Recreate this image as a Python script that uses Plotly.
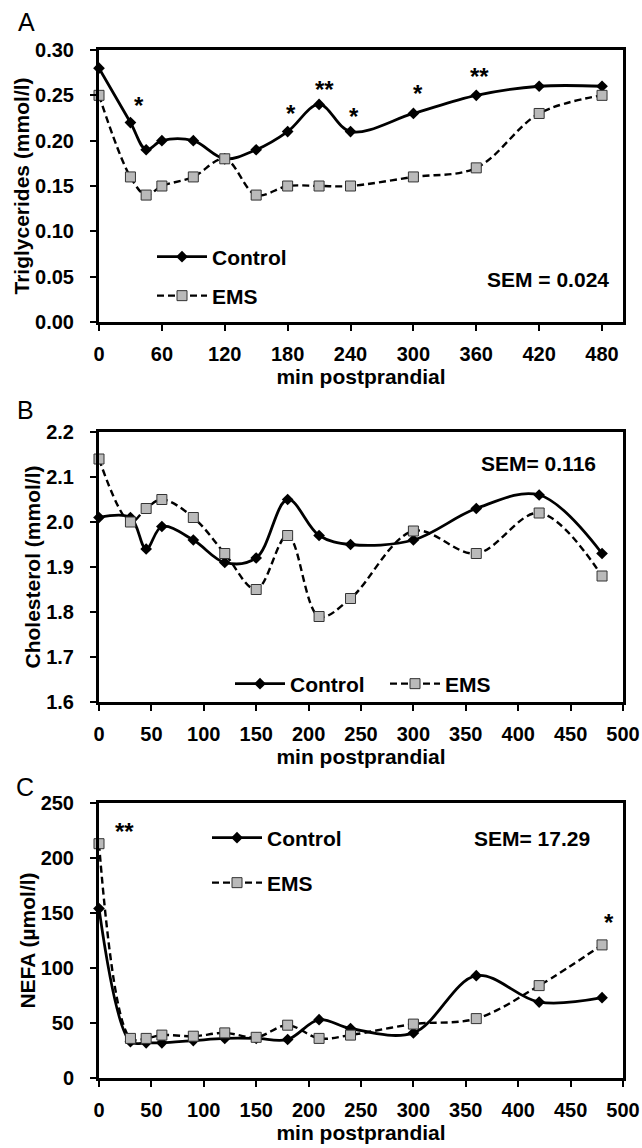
import plotly.graph_objects as go

# ---------------- data ----------------
time_min = [0, 30, 45, 60, 90, 120, 150, 180, 210, 240, 300, 360, 420, 480]

tg_control = [0.28, 0.22, 0.19, 0.20, 0.20, 0.18, 0.19, 0.21, 0.24, 0.21, 0.23, 0.25, 0.26, 0.26]
tg_ems     = [0.25, 0.16, 0.14, 0.15, 0.16, 0.18, 0.14, 0.15, 0.15, 0.15, 0.16, 0.17, 0.23, 0.25]

chol_control = [2.01, 2.01, 1.94, 1.99, 1.96, 1.91, 1.92, 2.05, 1.97, 1.95, 1.96, 2.03, 2.06, 1.93]
chol_ems     = [2.14, 2.00, 2.03, 2.05, 2.01, 1.93, 1.85, 1.97, 1.79, 1.83, 1.98, 1.93, 2.02, 1.88]

nefa_control = [154, 33, 32, 32, 34, 36, 36, 35, 53, 45, 41, 93, 69, 73]
nefa_ems     = [213, 36, 36, 39, 38, 41, 37, 48, 36, 39, 49, 54, 84, 121]

sig_a_x = [38, 183, 215, 243, 304, 363]
sig_a_y = [0.244, 0.236, 0.262, 0.232, 0.258, 0.276]
sig_a_text = ["*", "*", "**", "*", "*", "**"]

sig_c_x = [24, 487]
sig_c_y = [229, 146]
sig_c_text = ["**", "*"]

sem_labels = ["SEM = 0.024", "SEM= 0.116", "SEM= 17.29"]
panel_labels = ["A", "B", "C"]
y_titles = ["Triglycerides (mmol/l)", "Cholesterol (mmol/l)", "NEFA (µmol/l)"]
x_title = "min postprandial"

tg_ticks = [0, 60, 120, 180, 240, 300, 360, 420, 480]
# ---------------------------------------

W, H = 642, 1148
ML, MR, MT, MB = 99, 19, 50, 70
PW, PH = W - ML - MR, H - MT - MB


def pxx(x):
    return (x - ML) / PW


def pxy(y):
    return (H - MB - y) / PH


FONT = "Liberation Sans"
tickfont = dict(family=FONT, size=20, color="black", weight="bold")
titlefont = dict(family=FONT, size=21, color="black", weight="bold")

fig = go.Figure()

panels = [
    (tg_control, tg_ems, "x", "y"),
    (chol_control, chol_ems, "x2", "y2"),
    (nefa_control, nefa_ems, "x3", "y3"),
]
legend_names = [("legend", "legend2"), ("legend3", "legend4"), ("legend5", "legend6")]

for i, (ctl, ems, xa, ya) in enumerate(panels):
    lc, le = legend_names[i]
    fig.add_trace(go.Scatter(
        x=time_min, y=ctl, name="Control", xaxis=xa, yaxis=ya, legend=lc, showlegend=True,
        mode="lines+markers", line=dict(color="black", width=2.8, shape="spline", smoothing=1),
        marker=dict(symbol="diamond", size=9, color="black"), cliponaxis=False))
    fig.add_trace(go.Scatter(
        x=time_min, y=ems, name="EMS", xaxis=xa, yaxis=ya, legend=le, showlegend=True,
        mode="lines+markers", line=dict(color="black", width=2.4, dash="7px,4px", shape="spline", smoothing=1),
        marker=dict(symbol="square", size=10, color="#bababa", line=dict(color="#333333", width=1)),
        cliponaxis=False))

axis_common = dict(
    showline=True, linecolor="black", linewidth=3, mirror=True,
    ticks="outside", ticklen=6, tickwidth=2, tickcolor="black",
    showgrid=False, zeroline=False, tickfont=tickfont,
)

ydom = [
    [pxy(322), pxy(50)],
    [pxy(702), pxy(432)],
    [pxy(1078), pxy(803)],
]

fig.update_layout(
    width=W, height=H, showlegend=True,
    margin=dict(l=ML, r=MR, t=MT, b=MB, autoexpand=False),
    paper_bgcolor="white", plot_bgcolor="white",
    xaxis=dict(axis_common, domain=[0, 1], anchor="y", range=[0, 500], tickvals=tg_ticks,
               ticklabelstandoff=6,
               title=dict(text=x_title, font=titlefont, standoff=6)),
    yaxis=dict(axis_common, domain=ydom[0], anchor="x", range=[0, 0.30], dtick=0.05, tickformat=".2f",
               ticklabelstandoff=12,
               title=dict(text=y_titles[0], font=titlefont, standoff=0)),
    xaxis2=dict(axis_common, domain=[0, 1], anchor="y2", range=[0, 500], dtick=50,
                ticklabelstandoff=6,
                title=dict(text=x_title, font=titlefont, standoff=6)),
    yaxis2=dict(axis_common, domain=ydom[1], anchor="x2", range=[1.6, 2.2], dtick=0.1, tickformat=".1f",
                ticklabelstandoff=12,
                title=dict(text=y_titles[1], font=titlefont, standoff=0)),
    xaxis3=dict(axis_common, domain=[0, 1], anchor="y3", range=[0, 500], dtick=50,
                ticklabelstandoff=6,
                title=dict(text=x_title, font=titlefont, standoff=6)),
    yaxis3=dict(axis_common, domain=ydom[2], anchor="x3", range=[0, 250], dtick=50,
                ticklabelstandoff=12,
                title=dict(text=y_titles[2], font=titlefont, standoff=0)),
)

legfont = dict(family=FONT, size=21, color="black", weight="bold")
leg_common = dict(font=legfont, bgcolor="rgba(0,0,0,0)", borderwidth=0, visible=True,
                  xanchor="left", yanchor="middle", itemwidth=50)
leg_pos = {
    "legend": (152, 257), "legend2": (152, 296),
    "legend3": (230, 684), "legend4": (385, 684),
    "legend5": (207, 838), "legend6": (207, 883),
}
for name, (lx, ly) in leg_pos.items():
    fig.update_layout({name: dict(leg_common, x=pxx(lx), y=pxy(ly))})

annotations = []
# panel letters
for lab, (lx, ly) in zip(panel_labels, [(26, 22), (25, 410), (25, 787)]):
    annotations.append(dict(text=lab, xref="paper", yref="paper", x=pxx(lx), y=pxy(ly),
                            showarrow=False, xanchor="center", yanchor="middle",
                            font=dict(family=FONT, size=25, color="black")))
# SEM labels
for lab, (lx, ly) in zip(sem_labels, [(611, 279), (598, 463), (592, 839)]):
    annotations.append(dict(text=lab, xref="paper", yref="paper", x=pxx(lx), y=pxy(ly),
                            showarrow=False, xanchor="right", yanchor="middle",
                            font=dict(family=FONT, size=21, color="black", weight="bold")))
# significance marks
star_font = dict(family=FONT, size=24, color="black", weight="bold")
for sx, sy, st in zip(sig_a_x, sig_a_y, sig_a_text):
    annotations.append(dict(text=st, xref="x", yref="y", x=sx, y=sy, showarrow=False,
                            yshift=-5, font=star_font))
for sx, sy, st in zip(sig_c_x, sig_c_y, sig_c_text):
    annotations.append(dict(text=st, xref="x3", yref="y3", x=sx, y=sy, showarrow=False,
                            yshift=-5, font=star_font))
fig.update_layout(annotations=annotations)

fig.write_html(
    "out.html",
    config={"displayModeBar": False},
    post_script="document.body.style.margin='0px';document.body.style.overflow='hidden';",
)
